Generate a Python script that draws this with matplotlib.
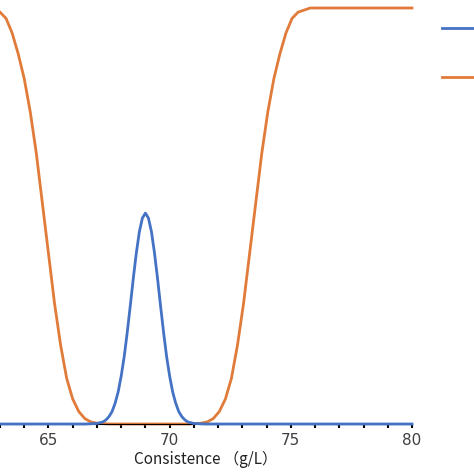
import numpy as np
import matplotlib
matplotlib.use("Agg")
import matplotlib.pyplot as plt

# consistence grid (g/L) and the two curves
x_orange = [63.0, 63.25, 63.5, 63.75, 64.0, 64.25, 64.5, 64.75, 65.0, 65.25, 65.5, 65.75,
            66.0, 66.25, 66.5, 66.75, 67.0, 67.5, 70.8, 71.3, 71.55, 71.8, 72.05, 72.3,
            72.55, 72.8, 73.05, 73.3, 73.55, 73.8, 74.05, 74.3, 74.55, 74.8, 75.05, 75.3,
            75.8, 80.0]
y_orange = [0.99, 0.975, 0.94, 0.89, 0.83, 0.75, 0.65, 0.53, 0.41, 0.29, 0.19, 0.11,
            0.06, 0.03, 0.013, 0.005, 0.002, 0.0, 0.0, 0.002, 0.005, 0.013, 0.03, 0.06,
            0.11, 0.19, 0.29, 0.41, 0.53, 0.65, 0.75, 0.83, 0.89, 0.94, 0.975, 0.99,
            1.0, 1.0]

x_blue = [63.0, 66.5, 67.0, 67.25, 67.375, 67.5, 67.625, 67.75, 67.875, 68.0, 68.125,
          68.25, 68.375, 68.5, 68.625, 68.75, 68.875, 69.0, 69.125, 69.25, 69.375, 69.5,
          69.625, 69.75, 69.875, 70.0, 70.125, 70.25, 70.375, 70.5, 70.625, 70.75, 71.0,
          71.5, 80.0]
y_blue = [0.0, 0.0, 0.0013, 0.005, 0.010, 0.018, 0.030, 0.05, 0.077, 0.115, 0.162,
          0.22, 0.284, 0.35, 0.411, 0.462, 0.495, 0.507, 0.495, 0.462, 0.411, 0.35,
          0.284, 0.22, 0.162, 0.115, 0.077, 0.05, 0.030, 0.018, 0.010, 0.005, 0.0013,
          0.0, 0.0]

labels = ["Normal distribution", "Membership function"]

plt.rcParams['font.family'] = ['DejaVu Sans', 'Noto Sans CJK SC']

fig = plt.figure(figsize=(4.74, 4.74), dpi=100)
ax = fig.add_axes([0.0, 50 / 474, 412 / 474, 416 / 474])

blue, = ax.plot(x_blue, y_blue, color="#4472C4", lw=2, clip_on=False, zorder=3)
orange, = ax.plot(x_orange, y_orange, color="#E07B39", lw=2, clip_on=False)

ax.set_xlim(63, 80)
ax.set_ylim(0, 1.0)
for s in ["top", "right", "left"]:
    ax.spines[s].set_visible(False)
ax.spines["bottom"].set_color("black")
ax.set_yticks([])
ax.set_xticks([65, 70, 75, 80])
ax.set_xticks(np.arange(63, 81, 1), minor=True)
ax.tick_params(axis="x", which="both", direction="out", length=3, width=1.5,
               labelsize=11, labelcolor="#404040")
ax.set_xlabel("Consistence （g/L）", fontsize=11, color="#202020",
              family=['Noto Sans CJK SC', 'DejaVu Sans'], labelpad=2)

fig.legend([blue, orange], labels, loc="upper left",
           bbox_to_anchor=(428 / 474, 1 - 8 / 474), frameon=False,
           handlelength=3, labelspacing=2.2, fontsize=11)

fig.savefig("out.png", dpi=100)
